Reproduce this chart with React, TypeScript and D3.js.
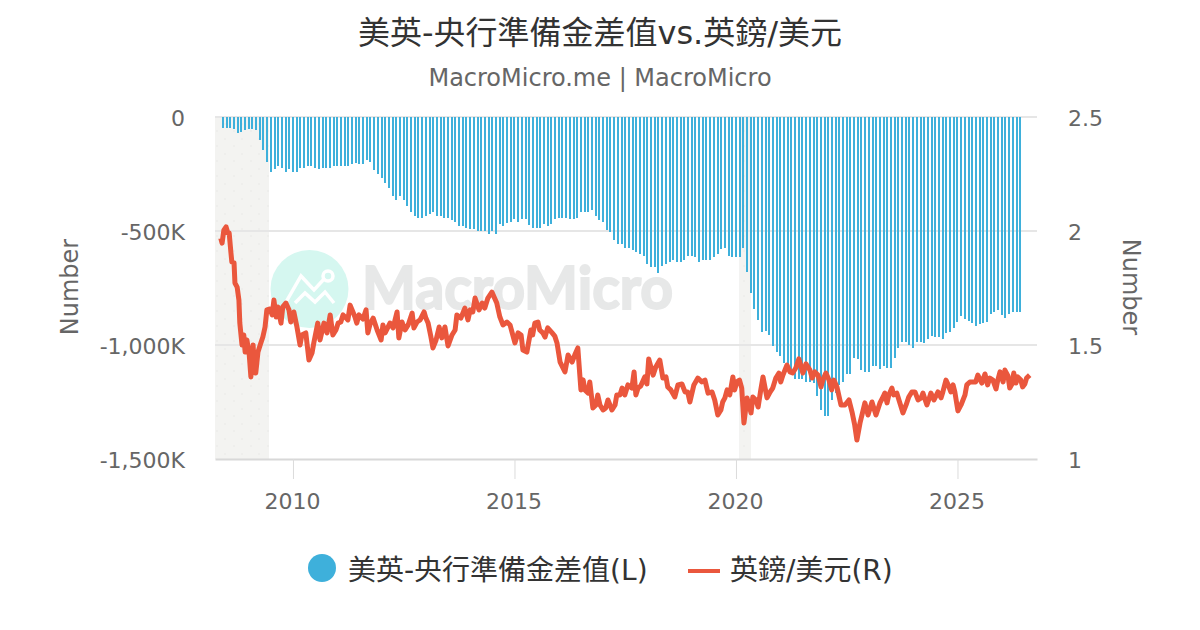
import React, { useEffect, useRef } from "react";
import * as d3 from "d3";

const title = "美英-央行準備金差值vs.英鎊/美元";
const subtitle = "MacroMicro.me | MacroMicro";
const barLabel = "美英-央行準備金差值(L)";
const lineLabel = "英鎊/美元(R)";

// monthly bars, starting June 2008, in thousands
const barStart = 2008 + 5 / 12;
const barValues = [
  -47, -47, -47, -54, -71, -64, -57, -54, -54, -57,
  -101, -145, -196, -240, -230, -214, -222, -240, -230, -240,
  -240, -222, -222, -214, -214, -222, -230, -222, -222, -222,
  -214, -214, -214, -214, -214, -205, -200, -205, -205, -189,
  -196, -233, -250, -266, -290, -310, -345, -363, -345, -363,
  -389, -415, -433, -442, -442, -433, -427, -415, -433, -433,
  -442, -442, -450, -459, -476, -479, -487, -493, -493, -502,
  -502, -502, -511, -502, -511, -469, -478, -466, -459, -449,
  -459, -449, -449, -475, -486, -486, -486, -469, -478, -469,
  -449, -442, -442, -442, -449, -449, -442, -415, -415, -415,
  -408, -433, -452, -459, -496, -503, -538, -555, -558, -574,
  -574, -585, -592, -599, -609, -643, -660, -660, -686, -652,
  -643, -636, -626, -636, -636, -626, -609, -609, -616, -636,
  -626, -626, -626, -616, -599, -581, -574, -609, -616, -616,
  -616, -574, -678, -773, -844, -890, -942, -937, -956, -1003,
  -1030, -1049, -1081, -1095, -1124, -1151, -1151, -1151, -1161, -1161,
  -1168, -1222, -1285, -1310, -1310, -1241, -1212, -1176, -1161, -1127,
  -1127, -1058, -1063, -1110, -1117, -1117, -1092, -1092, -1107, -1092,
  -1103, -1100, -1058, -1014, -988, -988, -1000, -1014, -988, -988,
  -993, -975, -960, -967, -967, -975, -949, -942, -925, -898,
  -872, -884, -893, -905, -915, -908, -905, -898, -862, -855,
  -848, -870, -880, -862, -855, -855, -855,
];

// highs and lows of the rate
const fxDates = [
  2008.37, 2008.4, 2008.44, 2008.49, 2008.53, 2008.56, 2008.6, 2008.62, 2008.67, 2008.69,
  2008.74, 2008.78, 2008.8, 2008.85, 2008.89, 2008.92, 2008.96, 2009.01, 2009.05, 2009.1,
  2009.12, 2009.16, 2009.21, 2009.26, 2009.32, 2009.37, 2009.41, 2009.48, 2009.53, 2009.57,
  2009.62, 2009.66, 2009.73, 2009.77, 2009.84, 2009.91, 2009.95, 2010.02, 2010.09, 2010.16,
  2010.2, 2010.29, 2010.36, 2010.43, 2010.47, 2010.56, 2010.61, 2010.7, 2010.77, 2010.84,
  2010.9, 2011.02, 2011.13, 2011.2, 2011.29, 2011.4, 2011.44, 2011.49, 2011.65, 2011.69,
  2011.81, 2011.9, 2011.99, 2012.03, 2012.19, 2012.35, 2012.39, 2012.53, 2012.69, 2012.8,
  2012.96, 2013.05, 2013.16, 2013.3, 2013.36, 2013.43, 2013.5, 2013.59, 2013.7, 2013.88,
  2014.0, 2014.11, 2014.27, 2014.49, 2014.6, 2014.67, 2014.83, 2014.9, 2015.01, 2015.08,
  2015.19, 2015.28, 2015.37, 2015.46, 2015.57, 2015.69, 2015.85, 2015.96, 2016.03, 2016.14,
  2016.21, 2016.3, 2016.43, 2016.5, 2016.59, 2016.7, 2016.77, 2016.88, 2017.0, 2017.11,
  2017.2, 2017.31, 2017.43, 2017.49, 2017.65, 2017.7, 2017.79, 2017.94, 2018.03, 2018.13,
  2018.28, 2018.35, 2018.46, 2018.62, 2018.69, 2018.85, 2018.96, 2019.05, 2019.23, 2019.37,
  2019.52, 2019.59, 2019.7, 2019.8, 2019.86, 2019.93, 2020.02, 2020.13, 2020.18, 2020.25,
  2020.34, 2020.38, 2020.5, 2020.61, 2020.7, 2020.83, 2020.97, 2021.06, 2021.15, 2021.28,
  2021.42, 2021.51, 2021.67, 2021.78, 2021.92, 2022.03, 2022.16, 2022.28, 2022.37, 2022.46,
  2022.62, 2022.73, 2022.8, 2022.91, 2022.98, 2023.07, 2023.16, 2023.32, 2023.41, 2023.52,
  2023.63, 2023.77, 2023.9, 2024.04, 2024.11, 2024.22, 2024.31, 2024.4, 2024.56, 2024.63,
  2024.74, 2024.85, 2024.94, 2025.01, 2025.17, 2025.28, 2025.46, 2025.55, 2025.62, 2025.73,
  2025.87, 2025.96, 2026.07, 2026.18, 2026.27, 2026.36, 2026.47, 2026.56, 2026.63,
];
const fxValues = [
  1.969, 1.947, 2.004, 2.018, 1.991, 1.991, 1.904, 1.864, 1.86, 1.772,
  1.754, 1.697, 1.596, 1.5, 1.544, 1.469, 1.522, 1.465, 1.36, 1.5,
  1.434, 1.377, 1.469, 1.5, 1.535, 1.579, 1.654, 1.658, 1.632, 1.697,
  1.623, 1.667, 1.596, 1.667, 1.684, 1.654, 1.601, 1.645, 1.579, 1.5,
  1.544, 1.553, 1.434, 1.465, 1.509, 1.596, 1.522, 1.596, 1.553, 1.632,
  1.544, 1.596, 1.632, 1.618, 1.675, 1.623, 1.596, 1.632, 1.654, 1.553,
  1.618, 1.566, 1.522, 1.588, 1.596, 1.645, 1.531, 1.566, 1.64, 1.601,
  1.645, 1.596, 1.487, 1.579, 1.531, 1.579, 1.496, 1.544, 1.632, 1.662,
  1.654, 1.706, 1.684, 1.732, 1.684, 1.623, 1.601, 1.588, 1.509, 1.553,
  1.478, 1.469, 1.566, 1.596, 1.566, 1.535, 1.553, 1.509, 1.425, 1.382,
  1.456, 1.425, 1.487, 1.303, 1.303, 1.338, 1.224, 1.281, 1.215, 1.259,
  1.215, 1.281, 1.311, 1.281, 1.311, 1.382, 1.311, 1.36, 1.439, 1.368,
  1.434, 1.355, 1.316, 1.272, 1.325, 1.294, 1.25, 1.325, 1.338, 1.289,
  1.259, 1.193, 1.25, 1.303, 1.281, 1.36, 1.338, 1.311, 1.158, 1.268,
  1.202, 1.272, 1.228, 1.36, 1.268, 1.311, 1.377, 1.368, 1.412, 1.377,
  1.439, 1.377, 1.39, 1.382, 1.316, 1.377, 1.303, 1.316, 1.237, 1.237,
  1.206, 1.083, 1.158, 1.246, 1.193, 1.25, 1.193, 1.272, 1.246, 1.311,
  1.289, 1.202, 1.272, 1.294, 1.259, 1.289, 1.237, 1.289, 1.294, 1.268,
  1.346, 1.294, 1.294, 1.211, 1.281, 1.338, 1.368, 1.333, 1.373, 1.355,
  1.307, 1.382, 1.39, 1.311, 1.377, 1.36, 1.316, 1.355, 1.368,
];

// more readings between those
const fxExtraDates = [
  2010.97, 2011.08, 2011.24, 2011.58, 2011.74, 2012.08, 2012.26, 2012.46, 2012.6, 2012.73,
  2012.87, 2013.0, 2013.11, 2013.23, 2013.66, 2013.79, 2013.95, 2014.06, 2014.2, 2014.33,
  2014.4, 2014.74, 2015.15, 2015.41, 2015.53, 2015.64, 2015.75, 2015.91, 2016.36, 2016.55,
  2016.66, 2016.84, 2016.93, 2017.06, 2017.27, 2017.38, 2017.56, 2017.74, 2017.85, 2017.99,
  2018.19, 2018.42, 2018.53, 2018.78, 2018.91, 2019.14, 2019.3, 2019.46, 2019.66, 2019.75,
  2019.97, 2020.08, 2020.45, 2020.56, 2020.77, 2020.9, 2021.01, 2021.22, 2021.35, 2021.58,
  2021.72, 2021.85, 2021.96, 2022.1, 2022.21, 2022.33, 2022.55, 2022.68, 2023.25, 2023.36,
  2023.45, 2023.56, 2023.7, 2023.84, 2023.97, 2024.18, 2024.35, 2024.47, 2024.67, 2024.79,
  2024.9, 2025.08, 2025.21, 2025.37, 2025.41, 2025.68, 2025.8, 2025.91, 2026.03, 2026.14,
  2026.23, 2026.32, 2026.43, 2026.52,
];
const fxExtraValues = [
  1.566, 1.601, 1.61, 1.614, 1.592, 1.553, 1.575, 1.601, 1.588, 1.575,
  1.61, 1.618, 1.539, 1.522, 1.566, 1.618, 1.61, 1.645, 1.654, 1.662,
  1.706, 1.588, 1.544, 1.544, 1.601, 1.553, 1.575, 1.539, 1.456, 1.347,
  1.289, 1.237, 1.237, 1.224, 1.237, 1.281, 1.325, 1.281, 1.32, 1.329,
  1.404, 1.36, 1.303, 1.329, 1.294, 1.355, 1.346, 1.294, 1.215, 1.268,
  1.303, 1.346, 1.259, 1.303, 1.294, 1.355, 1.338, 1.382, 1.399, 1.417,
  1.355, 1.368, 1.346, 1.346, 1.346, 1.272, 1.259, 1.149, 1.246, 1.289,
  1.281, 1.281, 1.246, 1.237, 1.294, 1.268, 1.259, 1.259, 1.294, 1.325,
  1.325, 1.237, 1.325, 1.338, 1.338, 1.325, 1.346, 1.346, 1.338, 1.364,
  1.329, 1.333, 1.346, 1.329,
];

const leftTicks = [0, -500, -1000, -1500];
const rightTicks = [2.5, 2, 1.5, 1];
const yearTicks = [2010, 2015, 2020, 2025];
const recessionStart = [2008.24, 2020.07];
const recessionEnd = [2009.46, 2020.34];

const fontFamily = '"DejaVu Sans", "Noto Sans CJK TC", sans-serif';
const barColor = "#3eb0db";
const lineColor = "#ea573d";

const App: React.FC = () => {
  const chartRef = useRef<SVGSVGElement | null>(null);

  useEffect(() => {
    if (!chartRef.current) return;
    const width = 1200;
    const height = 630;
    const margin = { top: 117, right: 163, bottom: 171, left: 215 };

    const svg = d3.select(chartRef.current);
    svg.selectAll("*").remove();
    svg.attr("font-family", fontFamily);

    const x = d3.scaleLinear().domain([2008.24, 2026.795]).range([margin.left, width - margin.right]);
    const yLeft = d3.scaleLinear().domain([-1500, 0]).range([height - margin.bottom, margin.top]);
    const yRight = d3.scaleLinear().domain([1, 2.5]).range([height - margin.bottom, margin.top]);

    // Texture on the shaded bands
    const pattern = svg
      .append("defs")
      .append("pattern")
      .attr("id", "dots")
      .attr("width", 17)
      .attr("height", 15)
      .attr("patternUnits", "userSpaceOnUse");
    pattern.append("circle").attr("cx", 4).attr("cy", 4).attr("r", 0.7).attr("fill", "#e6e6e2");
    pattern.append("circle").attr("cx", 13).attr("cy", 11).attr("r", 0.7).attr("fill", "#e6e6e2");

    // Shaded bands
    recessionStart.forEach((start, i) => {
      ["#f3f3f1", "url(#dots)"].forEach((fill) => {
        svg
          .append("rect")
          .attr("x", x(start))
          .attr("y", margin.top)
          .attr("width", x(recessionEnd[i]) - x(start))
          .attr("height", height - margin.top - margin.bottom)
          .attr("fill", fill);
      });
    });

    // Watermark
    const mark = svg.append("g");
    mark.append("circle").attr("cx", 309.5).attr("cy", 289).attr("r", 39).attr("fill", "#d5f7f0");
    const icon = mark.append("g").attr("fill", "none").attr("stroke", "#fff").attr("stroke-width", 3.5);
    icon.append("polyline").attr("points", "286,302 301,276 314,290 325,278");
    icon.append("polyline").attr("points", "295,303 305,293 315,302 325,292 334,303");
    icon.append("circle").attr("cx", 328).attr("cy", 276).attr("r", 5);
    mark
      .append("text")
      .attr("x", 362)
      .attr("y", 309)
      .attr("textLength", 311)
      .attr("lengthAdjust", "spacingAndGlyphs")
      .attr("font-family", "Lato, sans-serif")
      .attr("font-weight", 700)
      .attr("font-size", 60)
      .attr("fill", "#e7e8e8")
      .attr("stroke", "#e7e8e8")
      .attr("stroke-width", 2)
      .text("MacroMicro");

    // Grid lines
    svg
      .append("g")
      .selectAll("line")
      .data(leftTicks.slice(0, 3))
      .join("line")
      .attr("x1", margin.left)
      .attr("x2", width - margin.right)
      .attr("y1", (d) => yLeft(d))
      .attr("y2", (d) => yLeft(d))
      .attr("stroke", "#e6e6e6")
      .attr("stroke-width", 2);

    // Bars
    svg
      .append("g")
      .attr("shape-rendering", "crispEdges")
      .selectAll("rect")
      .data(barValues)
      .join("rect")
      .attr("x", (_, i) => x(barStart + i / 12) - 1)
      .attr("y", yLeft(0))
      .attr("width", 2)
      .attr("height", (d) => yLeft(d) - yLeft(0))
      .attr("fill", barColor);

    // X axis
    const xAxis = svg
      .append("g")
      .attr("transform", `translate(0,${height - margin.bottom})`)
      .call(
        d3
          .axisBottom(x)
          .tickValues(yearTicks)
          .tickFormat((d) => String(d))
          .tickSizeInner(20)
          .tickSizeOuter(0)
          .tickPadding(14)
      );
    xAxis.select(".domain").attr("stroke", "#d8d8d8").attr("stroke-width", 2);
    xAxis.selectAll(".tick line").attr("stroke", "#dcdcdc").attr("stroke-width", 1);
    xAxis
      .selectAll("text")
      .attr("fill", "#666")
      .attr("font-size", 22)
      .attr("font-family", fontFamily)
      .attr("dx", -1);

    // Left axis labels
    const leftAxis = svg
      .append("g")
      .attr("transform", `translate(${margin.left},0)`)
      .call(
        d3
          .axisLeft(yLeft)
          .tickValues(leftTicks)
          .tickSize(0)
          .tickPadding(30)
          .tickFormat((d) => (d === 0 ? "0" : `${d3.format(",")(+d).replace("−", "-")}K`))
      );
    leftAxis.select(".domain").remove();
    leftAxis
      .selectAll("text")
      .attr("fill", "#666")
      .attr("font-size", 22)
      .attr("font-family", fontFamily)
      .attr("dy", "0.38em");

    // Right axis labels
    const rightAxis = svg
      .append("g")
      .attr("transform", `translate(${width - margin.right},0)`)
      .call(d3.axisRight(yRight).tickValues(rightTicks).tickSize(0).tickPadding(31).tickFormat((d) => String(d)));
    rightAxis.select(".domain").remove();
    rightAxis
      .selectAll("text")
      .attr("fill", "#666")
      .attr("font-size", 22)
      .attr("font-family", fontFamily)
      .attr("dy", "0.38em");

    // FX line
    const fxPoints = [
      ...fxDates.map((d, i) => ({ date: d, value: fxValues[i] })),
      ...fxExtraDates.map((d, i) => ({ date: d, value: fxExtraValues[i] })),
    ].sort((a, b) => a.date - b.date);
    const line = d3
      .line<{ date: number; value: number }>()
      .x((d) => x(d.date))
      .y((d) => yRight(d.value));
    svg
      .append("path")
      .datum(fxPoints)
      .attr("d", line)
      .attr("fill", "none")
      .attr("stroke", lineColor)
      .attr("stroke-width", 5)
      .attr("stroke-linejoin", "round");

    // Titles
    svg
      .append("text")
      .attr("x", 600)
      .attr("y", 44)
      .attr("text-anchor", "middle")
      .attr("font-size", 32)
      .attr("fill", "#333")
      .text(title);
    svg
      .append("text")
      .attr("x", 600)
      .attr("y", 86)
      .attr("text-anchor", "middle")
      .attr("font-size", 24)
      .attr("fill", "#666")
      .text(subtitle);
    svg
      .append("text")
      .attr("transform", "translate(78,287) rotate(-90)")
      .attr("text-anchor", "middle")
      .attr("font-size", 24)
      .attr("fill", "#666")
      .text("Number");
    svg
      .append("text")
      .attr("transform", "translate(1123,287) rotate(90)")
      .attr("text-anchor", "middle")
      .attr("font-size", 24)
      .attr("fill", "#666")
      .text("Number");

    // Legend
    const legend = svg.append("g");
    legend.append("ellipse").attr("cx", 322).attr("cy", 568).attr("rx", 14).attr("ry", 14).attr("fill", barColor);
    legend
      .append("text")
      .attr("x", 348)
      .attr("y", 580)
      .attr("font-size", 28)
      .attr("fill", "#333")
      .text(barLabel);
    legend
      .append("line")
      .attr("x1", 688)
      .attr("x2", 720)
      .attr("y1", 571)
      .attr("y2", 571)
      .attr("stroke", lineColor)
      .attr("stroke-width", 4);
    legend
      .append("text")
      .attr("x", 730)
      .attr("y", 580)
      .attr("font-size", 28)
      .attr("fill", "#333")
      .text(lineLabel);
  }, []);

  return <svg ref={chartRef} width={1200} height={630} style={{ position: "absolute", left: 0, top: 0 }}></svg>;
};

export default App;
